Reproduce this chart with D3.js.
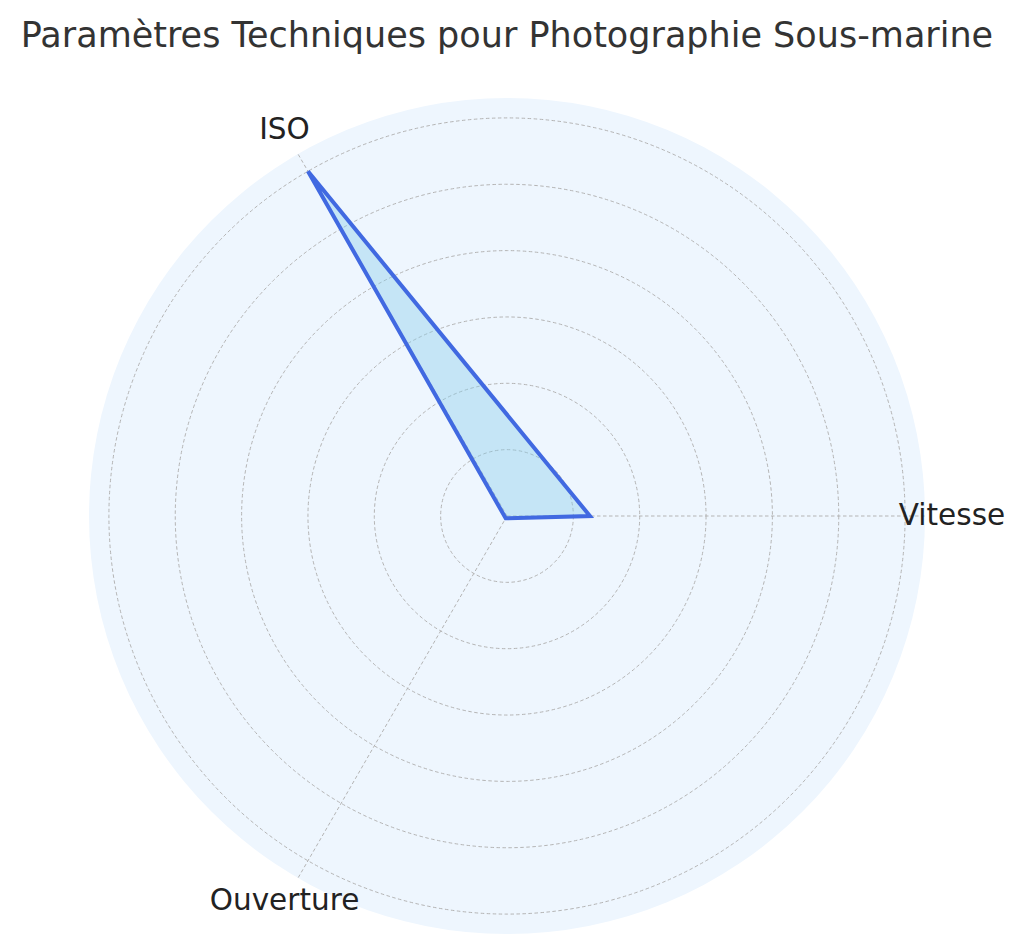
<!DOCTYPE html>
<html>
<head>
<meta charset="utf-8">
<script src="https://cdn.jsdelivr.net/npm/d3@7"></script>
<style>
  html, body { margin: 0; padding: 0; background: #ffffff; }
  svg { display: block; }
</style>
</head>
<body>
<svg id="chart" width="1024" height="952"></svg>
<script>
// ---- data ----
const categories = ["Vitesse", "ISO", "Ouverture"];
const values = [250, 1200, 8];
const radialTicks = [200, 400, 600, 800, 1000, 1200];
const rMaxValue = 1260;
const title = "Paramètres Techniques pour Photographie Sous-marine";

// ---- layout ----
const cx = 507, cy = 516;
const outerR = 418;
const labelR = 445;

const svg = d3.select("#chart");
const g = svg.append("g").attr("transform", `translate(${cx},${cy})`);

const r = d3.scaleLinear().domain([0, rMaxValue]).range([0, outerR]);
const angle = d3.scalePoint().domain(categories).range([0, 2 * Math.PI * (categories.length - 1) / categories.length]);

function pt(cat, v) {
  const a = angle(cat);
  return [r(v) * Math.cos(a), -r(v) * Math.sin(a)];
}

g.append("circle").attr("r", outerR).attr("fill", "#EEF6FE");

g.selectAll("circle.ring").data(radialTicks).join("circle")
  .attr("class", "ring")
  .attr("r", d => r(d))
  .attr("fill", "none")
  .attr("stroke", "#b4b4b4")
  .attr("stroke-width", 1)
  .attr("stroke-dasharray", "3.5,2.5");

g.selectAll("line.spoke").data(categories).join("line")
  .attr("class", "spoke")
  .attr("x1", 0).attr("y1", 0)
  .attr("x2", d => pt(d, rMaxValue)[0])
  .attr("y2", d => pt(d, rMaxValue)[1])
  .attr("stroke", "#b4b4b4")
  .attr("stroke-width", 1)
  .attr("stroke-dasharray", "3.5,2.5");

const poly = categories.map((c, i) => pt(c, values[i]));
g.append("path")
  .attr("d", d3.line()(poly) + "Z")
  .attr("fill", "#87CEEB")
  .attr("fill-opacity", 0.4)
  .attr("stroke", "#4169E1")
  .attr("stroke-width", 4)
  .attr("stroke-linejoin", "miter");

g.selectAll("text.cat").data(categories).join("text")
  .attr("class", "cat")
  .attr("x", d => labelR * Math.cos(angle(d)))
  .attr("y", d => -labelR * Math.sin(angle(d)) - 1.5)
  .attr("text-anchor", "middle")
  .attr("dominant-baseline", "central")
  .attr("font-family", "DejaVu Sans")
  .attr("font-size", 29.5)
  .attr("fill", "#222")
  .text(d => d);

svg.append("text")
  .attr("x", 507).attr("y", 46.5)
  .attr("text-anchor", "middle")
  .attr("font-family", "DejaVu Sans")
  .attr("font-size", 35)
  .attr("fill", "#333")
  .text(title);
</script>
</body>
</html>
